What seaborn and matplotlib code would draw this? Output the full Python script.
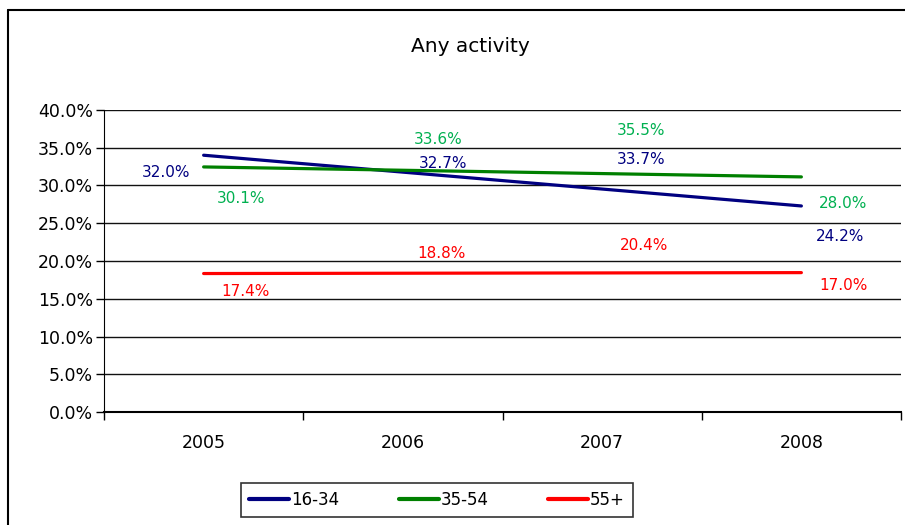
import numpy as np
import pandas as pd
import seaborn as sns
from matplotlib import pyplot as plt
from matplotlib.lines import Line2D
from matplotlib.ticker import FuncFormatter, FixedLocator

# dati: partecipazione per fascia d'eta
years = [2005, 2006, 2007, 2008]
age_groups = ["16-34", "35-54", "55+"]
v_16_34 = [32.0, 32.7, 33.7, 24.2]
v_35_54 = [30.1, 33.6, 35.5, 28.0]
v_55 = [17.4, 18.8, 20.4, 17.0]

line_colors = {"16-34": "#000080", "35-54": "#008000", "55+": "#FF0000"}
label_colors = {"16-34": "#000080", "35-54": "#00B050", "55+": "#FF0000"}
# spostamento etichette (pixel) rispetto al punto
offsets = {
    "16-34": [(-38, -2), (40, 2), (39, -2), (39, -7)],
    "35-54": [(37, -14), (35, 19), (39, 13), (42, -3)],
    "55+": [(42, -11), (39, 17), (42, 12), (42, -2)],
}

df = pd.DataFrame({
    "year": years * 3,
    "value": v_16_34 + v_35_54 + v_55,
    "group": np.repeat(age_groups, len(years)),
})

sns.set_style("white")
plt.rcParams['font.family'] = ['DejaVu Sans']
plt.rcParams['text.color'] = 'black'
plt.rcParams['xtick.color'] = 'black'
plt.rcParams['ytick.color'] = 'black'
plt.rcParams['xtick.labelcolor'] = 'black'
plt.rcParams['ytick.labelcolor'] = 'black'
fig = plt.figure(figsize=(9.05, 5.25), dpi=100)
ax = fig.add_axes([104 / 905, 113 / 525, 797 / 905, 302 / 525])

for g in age_groups:
    sub = df[df["group"] == g]
    # linee di tendenza lineari come nel grafico originale
    sns.regplot(x="year", y="value", data=sub, ax=ax, ci=None, scatter=False,
                truncate=True, color=line_colors[g], line_kws={"lw": 2.3})
    for (x, y), (dx, dy) in zip(zip(sub["year"], sub["value"]), offsets[g]):
        ax.annotate(f"{y:.1f}%", (x, y), xytext=(dx, dy), textcoords="offset pixels",
                    ha="center", va="center", fontsize=11, color=label_colors[g])

ax.set_xlim(2004.5, 2008.5)
ax.set_ylim(0, 40)
ax.set_yticks(np.arange(0, 41, 5))
ax.yaxis.set_major_formatter(FuncFormatter(lambda v, p: f"{v:.1f}%"))
ax.set_xticks(years)
ax.set_xticklabels([str(y) for y in years])
ax.xaxis.set_minor_locator(FixedLocator([2004.5, 2005.5, 2006.5, 2007.5, 2008.5]))
ax.tick_params(axis="x", which="both", bottom=True)
ax.tick_params(axis="x", which="major", length=0, pad=16, labelsize=12.5)
ax.tick_params(axis="x", which="minor", length=6, width=1, color="black", direction="out")
ax.tick_params(axis="y", left=True, length=6, width=1, color="black", direction="out",
               labelsize=12.5, pad=2)
ax.set_xlabel("")
ax.set_ylabel("")
ax.grid(axis="y", color="#111111", lw=1)
ax.set_axisbelow(True)
for s in ["top", "right"]:
    ax.spines[s].set_visible(False)
ax.spines["left"].set_color("black")
ax.spines["bottom"].set_color("black")
ax.spines["bottom"].set_linewidth(1.5)

fig.text(470 / 905, 1 - 47 / 525, "Any activity", ha="center", va="center", fontsize=14.5)

# bordo area grafico
fig.add_artist(Line2D([8 / 905, 8 / 905], [0, 1 - 10 / 525], color="black", lw=1.5))
fig.add_artist(Line2D([8 / 905, 1], [1 - 10 / 525, 1 - 10 / 525], color="black", lw=1.5))

handles = [Line2D([], [], color=line_colors[g], lw=3) for g in age_groups]
leg = fig.legend(handles, age_groups, loc="center", bbox_to_anchor=(437 / 905, 1 - 500 / 525),
                 ncol=3, frameon=True, fancybox=False, edgecolor="black", fontsize=12,
                 handlelength=2.4, handletextpad=0.1, columnspacing=3.6, borderpad=0.5,
                 borderaxespad=0)
leg.get_frame().set_linewidth(1.2)

plt.savefig("out.png", dpi=100)
